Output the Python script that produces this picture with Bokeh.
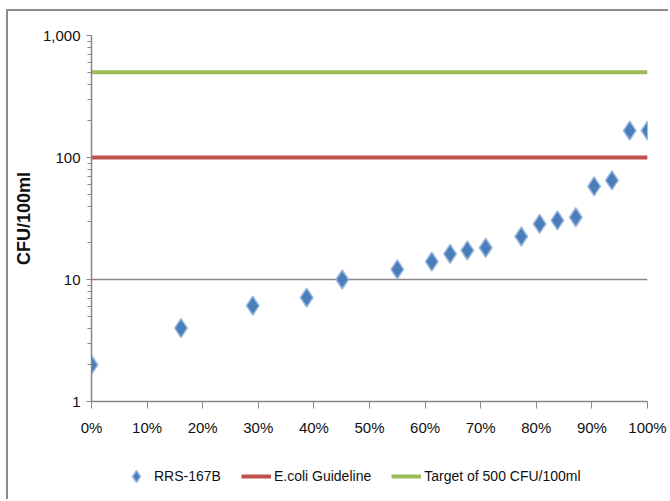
from bokeh.plotting import figure
from bokeh.models import (ColumnDataSource, Range1d, FixedTicker, NumeralTickFormatter,
                          Legend, LegendItem)
from bokeh.embed import file_html
from bokeh.resources import INLINE

# ---- data ----
pct_rank = [0.0, 0.161, 0.290, 0.387, 0.451, 0.550, 0.612, 0.645, 0.676, 0.709,
            0.773, 0.806, 0.838, 0.871, 0.904, 0.936, 0.968, 1.0]
cfu = [2.0, 4.0, 6.1, 7.1, 10.0, 12.1, 14.0, 16.2, 17.3, 18.2,
       22.5, 28.6, 30.5, 32.4, 58.0, 65.0, 166.0, 166.0]
guideline_value = 100
target_value = 500
x_extent = [0.0, 1.0]
x_ticks = [0.0, 0.1, 0.2, 0.3, 0.4, 0.5, 0.6, 0.7, 0.8, 0.9, 1.0]
y_ticks = [1, 10, 100, 1000]
series_names = ["RRS-167B", "E.coli Guideline", "Target of 500 CFU/100ml"]

FONT = "Liberation Sans"
GRAY = "#878787"
BLUE, RED, GREEN = "#4A7EBB", "#C0504D", "#9BBB59"

# ---------------- main chart ----------------
p = figure(width=662, height=440, y_axis_type="log",
           x_range=Range1d(x_extent[0], x_extent[1]),
           y_range=Range1d(y_ticks[0], y_ticks[-1]),
           output_backend="svg", toolbar_location=None,
           min_border_left=83, min_border_top=24, min_border_right=23,
           min_border_bottom=50)
p.styles = {"border-top": "2px solid #8c8c8c", "border-left": "2px solid #8c8c8c",
            "margin-top": "9px", "margin-left": "6px"}
p.outline_line_color = None

p.xaxis.ticker = FixedTicker(ticks=x_ticks)
p.xaxis.formatter = NumeralTickFormatter(format="0%")
minor = [m * d for d in [1, 10, 100] for m in range(2, 10)]
p.yaxis.ticker = FixedTicker(ticks=y_ticks, minor_ticks=minor)
p.yaxis.formatter = NumeralTickFormatter(format="0,0")
for ax in (p.xaxis, p.yaxis):
    ax.axis_line_color = GRAY
    ax.axis_line_width = 1.5
    ax.major_tick_line_color = GRAY
    ax.minor_tick_line_color = GRAY
    ax.major_tick_in = 0
    ax.minor_tick_in = 0
    ax.major_label_text_font = FONT
    ax.major_label_text_font_size = "15px"
    ax.major_label_text_color = "#111111"
p.xaxis.major_tick_out = 7
p.xaxis.minor_tick_out = 0
p.xaxis.minor_tick_line_color = None
p.xaxis.major_label_standoff = 10
p.yaxis.major_tick_out = 5
p.yaxis.minor_tick_out = 4
p.yaxis.major_label_standoff = 6
p.yaxis.axis_label = "CFU/100ml"
p.yaxis.axis_label_text_font = FONT
p.yaxis.axis_label_text_font_style = "bold"
p.yaxis.axis_label_text_font_size = "18px"
p.yaxis.axis_label_text_color = "#111111"
p.yaxis.axis_label_standoff = 6

p.xgrid.grid_line_color = None
p.ygrid.ticker = FixedTicker(ticks=y_ticks)
p.ygrid.grid_line_color = GRAY
p.ygrid.grid_line_width = 1.3

src = ColumnDataSource(dict(x=pct_rank, y=cfu))
p.line(x_extent, [guideline_value] * 2, line_color=RED, line_width=4)
p.line(x_extent, [target_value] * 2, line_color=GREEN, line_width=4)
p.scatter("x", "y", source=src, marker="diamond", size=19,
          fill_color=BLUE, line_color="#9DB9DD", line_width=1.5)

# ---------------- legend strip ----------------
# same series re-plotted on a strip whose range hides them; only the legend shows
leg = figure(width=662, height=50, x_range=Range1d(0, 1), y_range=Range1d(-1, 0),
             x_axis_location=None, y_axis_location=None,
             output_backend="svg", toolbar_location=None,
             min_border_left=113, min_border_right=0,
             min_border_top=4, min_border_bottom=0)
leg.styles = {"border-left": "2px solid #8c8c8c", "margin-left": "6px"}
leg.outline_line_color = None
leg.xgrid.grid_line_color = None
leg.ygrid.grid_line_color = None
ls = leg.scatter("x", "y", source=src, marker="diamond", size=19,
                 fill_color=BLUE, line_color="#9DB9DD", line_width=1.5)
lg = leg.line(x_extent, [guideline_value] * 2, line_color=RED, line_width=4)
lt = leg.line(x_extent, [target_value] * 2, line_color=GREEN, line_width=4)

legend = Legend(items=[LegendItem(label=series_names[0], renderers=[ls]),
                       LegendItem(label=series_names[1], renderers=[lg]),
                       LegendItem(label=series_names[2], renderers=[lt])],
                orientation="horizontal", location="left",
                label_text_font=FONT, label_text_font_size="14px",
                label_text_color="#111111",
                glyph_width=30, glyph_height=32, label_height=32,
                label_standoff=3, spacing=20, padding=0, margin=0,
                border_line_color=None, background_fill_alpha=0)
leg.add_layout(legend, "center")

open("out.html", "w").write(file_html([p, leg], INLINE))
